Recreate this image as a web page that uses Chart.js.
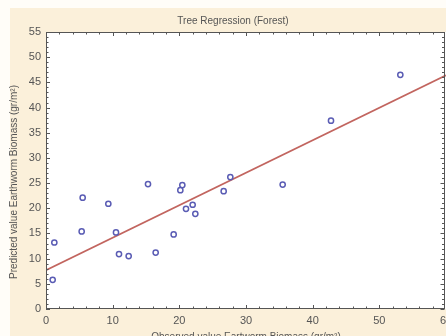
<!DOCTYPE html>
<html>
<head>
<meta charset="utf-8">
<script src="https://cdn.jsdelivr.net/npm/chart.js@4/dist/chart.umd.min.js"></script>
<style>
	html, body { margin: 0; padding: 0; background: #fbf0da; overflow: hidden; }
	#wrap { width: 446px; height: 336px; }
</style>
</head>
<body>
<div id="wrap"><canvas id="chart" width="446" height="336"></canvas></div>
<script>
/* data */
const observed = [1.0, 1.25, 5.5, 5.35, 9.35, 10.5, 10.95, 12.4, 15.3, 16.45, 19.15, 20.45, 20.15, 22.0, 21.0, 22.4, 26.65, 27.65, 35.5, 42.75, 53.15];
const predicted = [5.8, 13.2, 22.1, 15.4, 20.9, 15.2, 10.9, 10.5, 24.8, 11.2, 14.8, 24.6, 23.6, 20.7, 19.9, 18.9, 23.4, 26.2, 24.7, 37.4, 46.5];
const fitIntercept = 7.7;
const fitSlope = 0.645;
const xTickValues = [0, 10, 20, 30, 40, 50, 60];
const yTickValues = [0, 5, 10, 15, 20, 25, 30, 35, 40, 45, 50, 55];

const titleText = 'Tree Regression (Forest)';
const xTitleText = 'Observed value Eartworm Biomass (gr/m\u00b2)';
const yTitleText = 'Predicted value Earthworm Biomass (gr/m\u00b2)';

/* style */
const FONT = '"Liberation Sans", Arial, Helvetica, sans-serif';
const TEXT = '#555555';
const FRAME = '#555555';

const xMin = xTickValues[0];
const xMax = xTickValues[xTickValues.length - 1];

/* frame, inner tick marks, titles */
const framePlugin = {
	id: 'frame',
	beforeDraw(chart) {
		const { ctx, chartArea: a } = chart;
		ctx.save();
		ctx.fillStyle = '#fffdf8';
		ctx.fillRect(0, 0, chart.width, 8);
		ctx.fillRect(0, 0, 10, chart.height);
		ctx.fillStyle = '#ffffff';
		ctx.fillRect(a.left, a.top, a.right - a.left, a.bottom - a.top);
		ctx.restore();
	},
	afterDatasetsDraw(chart) {
		const { ctx, chartArea: a, scales } = chart;
		const x = scales.x, y = scales.y;
		const right = Math.min(a.right, chart.width - 1.5);
		ctx.save();
		ctx.strokeStyle = FRAME;
		ctx.lineWidth = 1;
		ctx.strokeRect(a.left + 0.5, a.top + 0.5, right - a.left - 0.5, a.bottom - a.top - 1);

		ctx.beginPath();
		for (let v = x.min; v <= x.max; v += 2) {
			const px = Math.round(x.getPixelForValue(v)) + 0.5;
			const len = v % 10 === 0 ? 4 : 2.5;
			ctx.moveTo(px, a.bottom); ctx.lineTo(px, a.bottom - len);
			ctx.moveTo(px, a.top); ctx.lineTo(px, a.top + len);
		}
		for (let v = y.min; v <= y.max; v += 1) {
			const py = Math.round(y.getPixelForValue(v)) + 0.5;
			const len = v % 5 === 0 ? 4 : 2.5;
			ctx.moveTo(a.left, py); ctx.lineTo(a.left + len, py);
			ctx.moveTo(right, py); ctx.lineTo(right - len, py);
		}
		ctx.stroke();

		ctx.fillStyle = TEXT;
		ctx.font = `10px ${FONT}`;
		ctx.textAlign = 'center';
		ctx.textBaseline = 'middle';
		ctx.fillText(titleText, 233, 21);
		ctx.fillText(xTitleText, (a.left + a.right) / 2, 337);

		ctx.translate(14, 182);
		ctx.rotate(-Math.PI / 2);
		ctx.fillText(yTitleText, 0, 0);
		ctx.restore();
	}
};

const chart = new Chart(document.getElementById('chart'), {
	type: 'scatter',
	data: {
		datasets: [
			{
				order: 0,
				data: observed.map((v, i) => ({ x: v, y: predicted[i] })),
				pointRadius: 2.6,
				pointBorderWidth: 1.5,
				pointBorderColor: '#5a5cb4',
				pointBackgroundColor: '#ffffff',
			},
			{
				order: 1,
				type: 'line',
				data: [xMin, xMax].map(v => ({ x: v, y: fitIntercept + fitSlope * v })),
				borderColor: '#c2655f',
				borderWidth: 1.6,
				pointRadius: 0,
				showLine: true,
			}
		]
	},
	options: {
		responsive: false,
		animation: false,
		layout: { autoPadding: false, padding: { top: 32, right: 0, left: 0, bottom: 0 } },
		plugins: {
			legend: { display: false },
			tooltip: { enabled: false },
			title: { display: false },
		},
		scales: {
			x: {
				type: 'linear',
				min: xMin,
				max: xMax,
				afterBuildTicks: s => { s.ticks = xTickValues.map(v => ({ value: v })); },
				afterFit: s => { s.height = 27; s.paddingLeft = 0; s.paddingRight = 0; },
				grid: { display: false, drawTicks: false },
				border: { display: false },
				ticks: { padding: 5, color: TEXT, font: { family: FONT, size: 11 }, maxRotation: 0 },
			},
			y: {
				type: 'linear',
				min: yTickValues[0],
				max: yTickValues[yTickValues.length - 1],
				afterBuildTicks: s => { s.ticks = yTickValues.map(v => ({ value: v })); },
				afterFit: s => { s.width = 46; s.paddingTop = 0; s.paddingBottom = 0; },
				grid: { display: false, drawTicks: false },
				border: { display: false },
				ticks: { padding: 5, color: TEXT, font: { family: FONT, size: 11 } },
			}
		}
	},
	plugins: [framePlugin]
});
</script>
</body>
</html>
